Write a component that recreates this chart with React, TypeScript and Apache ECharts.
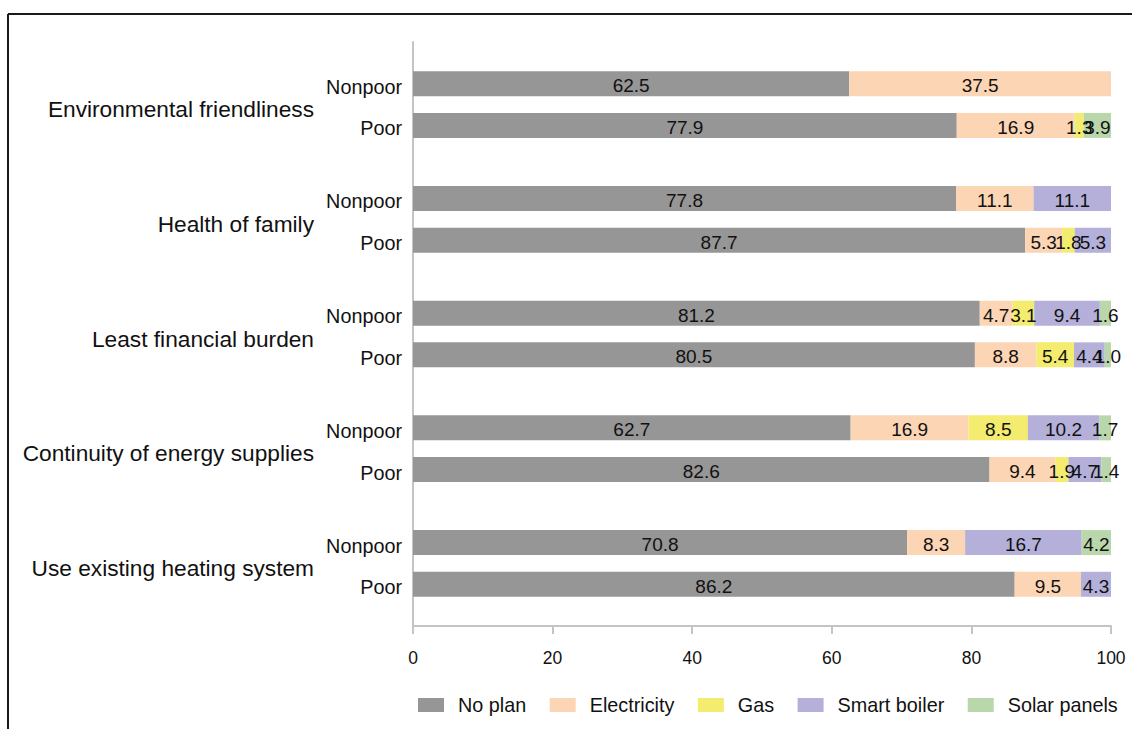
import React, { useEffect, useRef } from "react";
import * as echarts from "echarts";

const groups = [
  "Environmental friendliness",
  "Health of family",
  "Least financial burden",
  "Continuity of energy supplies",
  "Use existing heating system",
];
const subgroups = ["Nonpoor", "Poor"];
const seriesNames = ["No plan", "Electricity", "Gas", "Smart boiler", "Solar panels"];
// order: Env Nonpoor, Env Poor, Health Nonpoor, Health Poor, Least Nonpoor, Least Poor, Cont Nonpoor, Cont Poor, Use Nonpoor, Use Poor
const noPlan = [62.5, 77.9, 77.8, 87.7, 81.2, 80.5, 62.7, 82.6, 70.8, 86.2];
const electricity = [37.5, 16.9, 11.1, 5.3, 4.7, 8.8, 16.9, 9.4, 8.3, 9.5];
const gas = [0, 1.3, 0, 1.8, 3.1, 5.4, 8.5, 1.9, 0, 0];
const smartBoiler = [0, 0, 11.1, 5.3, 9.4, 4.4, 10.2, 4.7, 16.7, 4.3];
const solarPanels = [0, 3.9, 0, 0, 1.6, 1.0, 1.7, 1.4, 4.2, 0];
const colors = ["#969696", "#fcd5b4", "#f3ec6e", "#b4b0da", "#b9d7ab"];

export default function App() {
  const ref = useRef<HTMLDivElement>(null);
  useEffect(() => {
    if (!ref.current) return;
    const chart = echarts.init(ref.current, undefined, { renderer: "svg" });
    // slot layout: 57 category positions, bars on specific slots
    const N = 57;
    const slotOf = (g: number, s: number) => 4 + 11 * g + 4 * s;
    const subCats: string[] = new Array(N).fill("");
    const groupCats: string[] = new Array(N).fill("");
    groups.forEach((gName, g) => {
      subgroups.forEach((sName, s) => {
        subCats[slotOf(g, s)] = sName;
      });
      groupCats[slotOf(g, 0) + 2] = gName;
    });
    const axisCats = subCats.map((_, i) => "c" + i);
    const valuesList = [noPlan, electricity, gas, smartBoiler, solarPanels];
    const font = "Liberation Sans, Arial, sans-serif";
    const series = seriesNames.map((name, k) => {
      const data: (number | null)[] = new Array(N).fill(null);
      groups.forEach((_, g) => {
        subgroups.forEach((__, s) => {
          data[slotOf(g, s)] = valuesList[k][g * 2 + s];
        });
      });
      return {
        name,
        type: "bar",
        stack: "total",
        barWidth: 25,
        data,
        itemStyle: { color: colors[k] },
        label: {
          show: true,
          position: "inside",
          offset: [0, 2],
          color: "#111",
          fontSize: 19,
          fontFamily: font,
          formatter: (p: any) => (p.value ? Number(p.value).toFixed(1) : ""),
        },
      };
    });
    chart.setOption({
      animation: false,
      grid: { left: 413, right: 21, top: 42, bottom: 103, containLabel: false },
      xAxis: {
        type: "value",
        min: 0,
        max: 100,
        interval: 20,
        splitLine: { show: false },
        axisLine: { show: true, lineStyle: { color: "#c4c4c4", width: 2 } },
        axisTick: { show: true, length: 8, lineStyle: { color: "#c4c4c4", width: 2 } },
        axisLabel: { color: "#111", fontSize: 17.5, fontFamily: font, margin: 23 },
      },
      yAxis: [
        {
          type: "category",
          data: axisCats,
          inverse: true,
          boundaryGap: false,
          axisLine: { show: true, lineStyle: { color: "#c4c4c4", width: 2 } },
          axisTick: { show: false },
          splitLine: { show: false },
          axisLabel: {
            interval: 0,
            margin: 11,
            formatter: (_: string, i: number) => (subCats[i] ? "{s|" + subCats[i] + "}" : ""),
            rich: {
              s: { color: "#111", fontSize: 19.8, fontFamily: font, padding: [6, 0, 0, 0] },
            },
          },
        },
        {
          type: "category",
          data: axisCats,
          inverse: true,
          boundaryGap: false,
          position: "left",
          offset: 0,
          axisLine: { show: false },
          axisTick: { show: false },
          splitLine: { show: false },
          axisLabel: {
            interval: 0,
            margin: 99,
            formatter: (_: string, i: number) => (groupCats[i] ? "{g|" + groupCats[i] + "}" : ""),
            rich: {
              g: { color: "#111", fontSize: 22.7, fontFamily: font, padding: [9, 0, 0, 0] },
            },
          },
        },
      ],
      legend: {
        left: 413,
        top: 690,
        icon: "rect",
        itemWidth: 26,
        itemHeight: 14,
        itemGap: 23.5,
        data: seriesNames,
        textStyle: { color: "#111", fontSize: 19.8, fontFamily: font, padding: [0, 0, 0, 9] },
      },
      graphic: [
        { type: "line", shape: { x1: 8, y1: 14, x2: 1132, y2: 14 }, style: { stroke: "#1a1a1a", lineWidth: 2 } },
        { type: "line", shape: { x1: 8, y1: 14, x2: 8, y2: 729 }, style: { stroke: "#1a1a1a", lineWidth: 2 } },
      ],
      series,
    });
    return () => chart.dispose();
  }, []);
  return (
    <div
      ref={ref}
      style={{ position: "fixed", left: 0, top: 0, width: 1132, height: 729, background: "#fff" }}
    />
  );
}
